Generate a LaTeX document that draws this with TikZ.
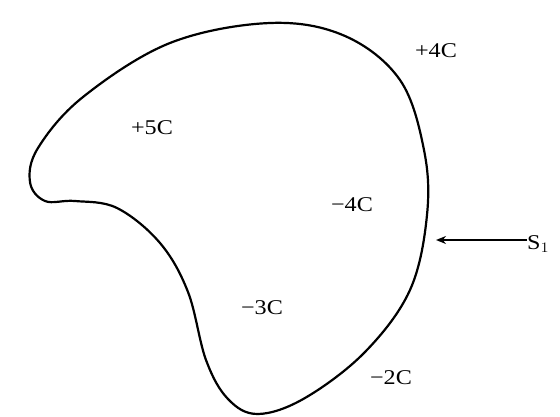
\documentclass[tikz,border=0pt]{standalone}
\usepackage{fontspec}
\setmainfont{Liberation Serif}
\usetikzlibrary{arrows.meta}
\tikzset{
  surface/.style={line width=2.2pt, black},
  charge/.style={font=\fontsize{21}{21}\selectfont, inner sep=0pt, xscale=1.15},
  pointer/.style={line width=1.6pt, -{Stealth[length=10pt,width=8pt]}}
}
\begin{document}
\begin{tikzpicture}[x=1pt,y=-1pt]
\useasboundingbox (0,0) rectangle (560,417);
\draw[surface] plot[smooth cycle, tension=0.6] coordinates {
 (270,23) (345,36) (400,80) (424,150) (427,215) (410,290) (365,352)
 (305,398) (258,414) (228,399) (206,360) (188,292) (160,243) (117,208) (75,201)
 (45,201) (30,182) (38,148) (83,97) (170,43)};
\node[charge] (p4) at (436,51) {+4C};
\node[charge] (p5) at (152,128) {+5C};
\node[charge] (m4) at (352,205) {−4C};
\node[charge] (m3) at (262,308) {−3C};
\node[charge] (m2) at (391,378) {−2C};
\node[charge, anchor=west] (s1) at (527,244) {S$_1$};
\coordinate (tip) at (436,240);
\draw[pointer] (s1.west |- tip) -- (tip);
\end{tikzpicture}
\end{document}
